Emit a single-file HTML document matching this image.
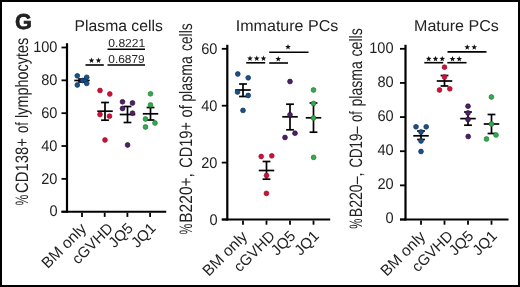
<!DOCTYPE html>
<html><head><meta charset="utf-8"><style>
html,body{margin:0;padding:0;background:#fff;}
svg{will-change:transform} svg text{text-rendering:geometricPrecision}
svg{display:block;font-family:"Liberation Sans", sans-serif;fill:#222;}
</style></head><body>
<svg width="520" height="287" viewBox="0 0 520 287">
<rect x="1" y="1" width="518" height="285" fill="none" stroke="#000" stroke-width="2"/>
<text x="14.9" y="29.1" font-size="21.6" textLength="16.9" lengthAdjust="spacingAndGlyphs" font-weight="bold" stroke="#111" stroke-width="0.6">G</text>
<text x="74.6" y="30.6" font-size="15.6" textLength="88.2" lengthAdjust="spacingAndGlyphs">Plasma cells</text>
<text x="235.8" y="31.2" font-size="15.8" textLength="102.5" lengthAdjust="spacingAndGlyphs">Immature PCs</text>
<text x="414" y="31.2" font-size="15.8" textLength="84.8" lengthAdjust="spacingAndGlyphs">Mature PCs</text>
<line x1="67" y1="43.2" x2="67" y2="212.7" stroke="#000" stroke-width="2.2"/>
<line x1="61.5" y1="211.7" x2="166.2" y2="211.7" stroke="#000" stroke-width="2.0"/>
<line x1="61.5" y1="211.7" x2="67" y2="211.7" stroke="#000" stroke-width="1.8"/>
<text x="57.5" y="216.39999999999998" font-size="15.4" text-anchor="end" textLength="8.11" lengthAdjust="spacingAndGlyphs">0</text>
<line x1="61.5" y1="178.85999999999999" x2="67" y2="178.85999999999999" stroke="#000" stroke-width="1.8"/>
<text x="57.5" y="183.55999999999997" font-size="15.4" text-anchor="end" textLength="16.22" lengthAdjust="spacingAndGlyphs">20</text>
<line x1="61.5" y1="146.01999999999998" x2="67" y2="146.01999999999998" stroke="#000" stroke-width="1.8"/>
<text x="57.5" y="150.71999999999997" font-size="15.4" text-anchor="end" textLength="16.22" lengthAdjust="spacingAndGlyphs">40</text>
<line x1="61.5" y1="113.17999999999999" x2="67" y2="113.17999999999999" stroke="#000" stroke-width="1.8"/>
<text x="57.5" y="117.88" font-size="15.4" text-anchor="end" textLength="16.22" lengthAdjust="spacingAndGlyphs">60</text>
<line x1="61.5" y1="80.34" x2="67" y2="80.34" stroke="#000" stroke-width="1.8"/>
<text x="57.5" y="85.04" font-size="15.4" text-anchor="end" textLength="16.22" lengthAdjust="spacingAndGlyphs">80</text>
<line x1="61.5" y1="47.5" x2="67" y2="47.5" stroke="#000" stroke-width="1.8"/>
<text x="57.5" y="52.2" font-size="15.4" text-anchor="end" textLength="24.33" lengthAdjust="spacingAndGlyphs">100</text>
<line x1="82" y1="212.7" x2="82" y2="216.89999999999998" stroke="#000" stroke-width="1.8"/>
<line x1="104.7" y1="212.7" x2="104.7" y2="216.89999999999998" stroke="#000" stroke-width="1.8"/>
<line x1="127.4" y1="212.7" x2="127.4" y2="216.89999999999998" stroke="#000" stroke-width="1.8"/>
<line x1="150.1" y1="212.7" x2="150.1" y2="216.89999999999998" stroke="#000" stroke-width="1.8"/>
<line x1="227.3" y1="44.8" x2="227.3" y2="220.5" stroke="#000" stroke-width="2.2"/>
<line x1="221.8" y1="219.5" x2="330.2" y2="219.5" stroke="#000" stroke-width="2.0"/>
<line x1="221.8" y1="219.5" x2="227.3" y2="219.5" stroke="#000" stroke-width="1.8"/>
<text x="217.5" y="224.6" font-size="15.4" text-anchor="end" textLength="8.11" lengthAdjust="spacingAndGlyphs">0</text>
<line x1="221.8" y1="162.6" x2="227.3" y2="162.6" stroke="#000" stroke-width="1.8"/>
<text x="217.5" y="167.7" font-size="15.4" text-anchor="end" textLength="16.22" lengthAdjust="spacingAndGlyphs">20</text>
<line x1="221.8" y1="105.69999999999999" x2="227.3" y2="105.69999999999999" stroke="#000" stroke-width="1.8"/>
<text x="217.5" y="110.79999999999998" font-size="15.4" text-anchor="end" textLength="16.22" lengthAdjust="spacingAndGlyphs">40</text>
<line x1="221.8" y1="48.79999999999998" x2="227.3" y2="48.79999999999998" stroke="#000" stroke-width="1.8"/>
<text x="217.5" y="53.899999999999984" font-size="15.4" text-anchor="end" textLength="16.22" lengthAdjust="spacingAndGlyphs">60</text>
<line x1="243" y1="220.5" x2="243" y2="224.7" stroke="#000" stroke-width="1.8"/>
<line x1="266.5" y1="220.5" x2="266.5" y2="224.7" stroke="#000" stroke-width="1.8"/>
<line x1="290" y1="220.5" x2="290" y2="224.7" stroke="#000" stroke-width="1.8"/>
<line x1="313.5" y1="220.5" x2="313.5" y2="224.7" stroke="#000" stroke-width="1.8"/>
<line x1="405.5" y1="44.8" x2="405.5" y2="220.5" stroke="#000" stroke-width="2.2"/>
<line x1="400.0" y1="219.5" x2="508.5" y2="219.5" stroke="#000" stroke-width="2.0"/>
<line x1="400.0" y1="219.5" x2="405.5" y2="219.5" stroke="#000" stroke-width="1.8"/>
<text x="393.6" y="223.4" font-size="15.4" text-anchor="end" textLength="8.11" lengthAdjust="spacingAndGlyphs">0</text>
<line x1="400.0" y1="185.36" x2="405.5" y2="185.36" stroke="#000" stroke-width="1.8"/>
<text x="393.6" y="189.26000000000002" font-size="15.4" text-anchor="end" textLength="16.22" lengthAdjust="spacingAndGlyphs">20</text>
<line x1="400.0" y1="151.22" x2="405.5" y2="151.22" stroke="#000" stroke-width="1.8"/>
<text x="393.6" y="155.12" font-size="15.4" text-anchor="end" textLength="16.22" lengthAdjust="spacingAndGlyphs">40</text>
<line x1="400.0" y1="117.08" x2="405.5" y2="117.08" stroke="#000" stroke-width="1.8"/>
<text x="393.6" y="120.98" font-size="15.4" text-anchor="end" textLength="16.22" lengthAdjust="spacingAndGlyphs">60</text>
<line x1="400.0" y1="82.94" x2="405.5" y2="82.94" stroke="#000" stroke-width="1.8"/>
<text x="393.6" y="86.84" font-size="15.4" text-anchor="end" textLength="16.22" lengthAdjust="spacingAndGlyphs">80</text>
<line x1="400.0" y1="48.79999999999998" x2="405.5" y2="48.79999999999998" stroke="#000" stroke-width="1.8"/>
<text x="393.6" y="52.69999999999998" font-size="15.4" text-anchor="end" textLength="24.33" lengthAdjust="spacingAndGlyphs">100</text>
<line x1="421" y1="220.5" x2="421" y2="224.7" stroke="#000" stroke-width="1.8"/>
<line x1="444.5" y1="220.5" x2="444.5" y2="224.7" stroke="#000" stroke-width="1.8"/>
<line x1="468" y1="220.5" x2="468" y2="224.7" stroke="#000" stroke-width="1.8"/>
<line x1="491.5" y1="220.5" x2="491.5" y2="224.7" stroke="#000" stroke-width="1.8"/>
<line x1="82" y1="79" x2="82" y2="82" stroke="#000" stroke-width="1.7"/>
<line x1="78.1" y1="79" x2="85.9" y2="79" stroke="#000" stroke-width="1.7"/>
<line x1="78.1" y1="82" x2="85.9" y2="82" stroke="#000" stroke-width="1.7"/>
<line x1="74.25" y1="80.5" x2="89.75" y2="80.5" stroke="#000" stroke-width="1.7"/>
<line x1="105" y1="102.5" x2="105" y2="120.2" stroke="#000" stroke-width="1.7"/>
<line x1="101.1" y1="102.5" x2="108.9" y2="102.5" stroke="#000" stroke-width="1.7"/>
<line x1="101.1" y1="120.2" x2="108.9" y2="120.2" stroke="#000" stroke-width="1.7"/>
<line x1="97.25" y1="111.2" x2="112.75" y2="111.2" stroke="#000" stroke-width="1.7"/>
<line x1="127.5" y1="106.5" x2="127.5" y2="122.5" stroke="#000" stroke-width="1.7"/>
<line x1="123.6" y1="106.5" x2="131.4" y2="106.5" stroke="#000" stroke-width="1.7"/>
<line x1="123.6" y1="122.5" x2="131.4" y2="122.5" stroke="#000" stroke-width="1.7"/>
<line x1="119.75" y1="114.5" x2="135.25" y2="114.5" stroke="#000" stroke-width="1.7"/>
<line x1="150.5" y1="107.5" x2="150.5" y2="120" stroke="#000" stroke-width="1.7"/>
<line x1="146.6" y1="107.5" x2="154.4" y2="107.5" stroke="#000" stroke-width="1.7"/>
<line x1="146.6" y1="120" x2="154.4" y2="120" stroke="#000" stroke-width="1.7"/>
<line x1="142.75" y1="113.8" x2="158.25" y2="113.8" stroke="#000" stroke-width="1.7"/>
<line x1="243" y1="84" x2="243" y2="96.5" stroke="#000" stroke-width="1.7"/>
<line x1="239.1" y1="84" x2="246.9" y2="84" stroke="#000" stroke-width="1.7"/>
<line x1="239.1" y1="96.5" x2="246.9" y2="96.5" stroke="#000" stroke-width="1.7"/>
<line x1="235.25" y1="90" x2="250.75" y2="90" stroke="#000" stroke-width="1.7"/>
<line x1="266.5" y1="161.5" x2="266.5" y2="179.2" stroke="#000" stroke-width="1.7"/>
<line x1="262.6" y1="161.5" x2="270.4" y2="161.5" stroke="#000" stroke-width="1.7"/>
<line x1="262.6" y1="179.2" x2="270.4" y2="179.2" stroke="#000" stroke-width="1.7"/>
<line x1="258.75" y1="170.5" x2="274.25" y2="170.5" stroke="#000" stroke-width="1.7"/>
<line x1="290" y1="104.2" x2="290" y2="129.8" stroke="#000" stroke-width="1.7"/>
<line x1="286.1" y1="104.2" x2="293.9" y2="104.2" stroke="#000" stroke-width="1.7"/>
<line x1="286.1" y1="129.8" x2="293.9" y2="129.8" stroke="#000" stroke-width="1.7"/>
<line x1="282.25" y1="116.8" x2="297.75" y2="116.8" stroke="#000" stroke-width="1.7"/>
<line x1="313.5" y1="103" x2="313.5" y2="132.2" stroke="#000" stroke-width="1.7"/>
<line x1="309.6" y1="103" x2="317.4" y2="103" stroke="#000" stroke-width="1.7"/>
<line x1="309.6" y1="132.2" x2="317.4" y2="132.2" stroke="#000" stroke-width="1.7"/>
<line x1="305.75" y1="117.8" x2="321.25" y2="117.8" stroke="#000" stroke-width="1.7"/>
<line x1="421" y1="131" x2="421" y2="139.5" stroke="#000" stroke-width="1.7"/>
<line x1="417.1" y1="131" x2="424.9" y2="131" stroke="#000" stroke-width="1.7"/>
<line x1="417.1" y1="139.5" x2="424.9" y2="139.5" stroke="#000" stroke-width="1.7"/>
<line x1="413.25" y1="135.8" x2="428.75" y2="135.8" stroke="#000" stroke-width="1.7"/>
<line x1="444.5" y1="75.5" x2="444.5" y2="86" stroke="#000" stroke-width="1.7"/>
<line x1="440.6" y1="75.5" x2="448.4" y2="75.5" stroke="#000" stroke-width="1.7"/>
<line x1="440.6" y1="86" x2="448.4" y2="86" stroke="#000" stroke-width="1.7"/>
<line x1="436.75" y1="81" x2="452.25" y2="81" stroke="#000" stroke-width="1.7"/>
<line x1="468" y1="112" x2="468" y2="125.2" stroke="#000" stroke-width="1.7"/>
<line x1="464.1" y1="112" x2="471.9" y2="112" stroke="#000" stroke-width="1.7"/>
<line x1="464.1" y1="125.2" x2="471.9" y2="125.2" stroke="#000" stroke-width="1.7"/>
<line x1="460.25" y1="118.6" x2="475.75" y2="118.6" stroke="#000" stroke-width="1.7"/>
<line x1="491.5" y1="114.5" x2="491.5" y2="133.5" stroke="#000" stroke-width="1.7"/>
<line x1="487.6" y1="114.5" x2="495.4" y2="114.5" stroke="#000" stroke-width="1.7"/>
<line x1="487.6" y1="133.5" x2="495.4" y2="133.5" stroke="#000" stroke-width="1.7"/>
<line x1="483.75" y1="124" x2="499.25" y2="124" stroke="#000" stroke-width="1.7"/>
<circle cx="77.3" cy="75.8" r="2.4" fill="#1a5287" stroke="#0b2d50" stroke-width="0.7"/>
<circle cx="77.3" cy="85" r="2.4" fill="#1a5287" stroke="#0b2d50" stroke-width="0.7"/>
<circle cx="82.6" cy="80.5" r="2.4" fill="#1a5287" stroke="#0b2d50" stroke-width="0.7"/>
<circle cx="85.3" cy="80.5" r="2.4" fill="#1a5287" stroke="#0b2d50" stroke-width="0.7"/>
<circle cx="86.7" cy="77.3" r="2.4" fill="#1a5287" stroke="#0b2d50" stroke-width="0.7"/>
<circle cx="86.7" cy="83.4" r="2.4" fill="#1a5287" stroke="#0b2d50" stroke-width="0.7"/>
<circle cx="100" cy="90.5" r="2.4" fill="#cc1238" stroke="#9c0b28" stroke-width="0.7"/>
<circle cx="109.8" cy="94" r="2.4" fill="#cc1238" stroke="#9c0b28" stroke-width="0.7"/>
<circle cx="100" cy="114.5" r="2.4" fill="#cc1238" stroke="#9c0b28" stroke-width="0.7"/>
<circle cx="109.5" cy="116.2" r="2.4" fill="#cc1238" stroke="#9c0b28" stroke-width="0.7"/>
<circle cx="105" cy="140" r="2.4" fill="#cc1238" stroke="#9c0b28" stroke-width="0.7"/>
<circle cx="122.5" cy="101.8" r="2.4" fill="#4d2163" stroke="#2c0c3e" stroke-width="0.7"/>
<circle cx="132.5" cy="103" r="2.4" fill="#4d2163" stroke="#2c0c3e" stroke-width="0.7"/>
<circle cx="122.5" cy="108.5" r="2.4" fill="#4d2163" stroke="#2c0c3e" stroke-width="0.7"/>
<circle cx="132.5" cy="113.2" r="2.4" fill="#4d2163" stroke="#2c0c3e" stroke-width="0.7"/>
<circle cx="127.6" cy="145" r="2.4" fill="#4d2163" stroke="#2c0c3e" stroke-width="0.7"/>
<circle cx="150.5" cy="93.8" r="2.4" fill="#33aa50" stroke="#1d7a36" stroke-width="0.7"/>
<circle cx="150.5" cy="105" r="2.4" fill="#33aa50" stroke="#1d7a36" stroke-width="0.7"/>
<circle cx="145.5" cy="119" r="2.4" fill="#33aa50" stroke="#1d7a36" stroke-width="0.7"/>
<circle cx="155" cy="123" r="2.4" fill="#33aa50" stroke="#1d7a36" stroke-width="0.7"/>
<circle cx="145.5" cy="127" r="2.4" fill="#33aa50" stroke="#1d7a36" stroke-width="0.7"/>
<circle cx="237.8" cy="74" r="2.4" fill="#1a5287" stroke="#0b2d50" stroke-width="0.7"/>
<circle cx="248.2" cy="77.8" r="2.4" fill="#1a5287" stroke="#0b2d50" stroke-width="0.7"/>
<circle cx="237.5" cy="92" r="2.4" fill="#1a5287" stroke="#0b2d50" stroke-width="0.7"/>
<circle cx="248.2" cy="95.5" r="2.4" fill="#1a5287" stroke="#0b2d50" stroke-width="0.7"/>
<circle cx="243" cy="110.4" r="2.4" fill="#1a5287" stroke="#0b2d50" stroke-width="0.7"/>
<circle cx="261.2" cy="156.5" r="2.4" fill="#cc1238" stroke="#9c0b28" stroke-width="0.7"/>
<circle cx="271.8" cy="155.8" r="2.4" fill="#cc1238" stroke="#9c0b28" stroke-width="0.7"/>
<circle cx="266.5" cy="175.5" r="2.4" fill="#cc1238" stroke="#9c0b28" stroke-width="0.7"/>
<circle cx="266.4" cy="193.4" r="2.4" fill="#cc1238" stroke="#9c0b28" stroke-width="0.7"/>
<circle cx="290" cy="81.5" r="2.4" fill="#4d2163" stroke="#2c0c3e" stroke-width="0.7"/>
<circle cx="290" cy="114.8" r="2.4" fill="#4d2163" stroke="#2c0c3e" stroke-width="0.7"/>
<circle cx="295" cy="133.2" r="2.4" fill="#4d2163" stroke="#2c0c3e" stroke-width="0.7"/>
<circle cx="285" cy="137.5" r="2.4" fill="#4d2163" stroke="#2c0c3e" stroke-width="0.7"/>
<circle cx="313.5" cy="90" r="2.4" fill="#33aa50" stroke="#1d7a36" stroke-width="0.7"/>
<circle cx="313.5" cy="103.5" r="2.4" fill="#33aa50" stroke="#1d7a36" stroke-width="0.7"/>
<circle cx="313.5" cy="118" r="2.4" fill="#33aa50" stroke="#1d7a36" stroke-width="0.7"/>
<circle cx="313.6" cy="157.4" r="2.4" fill="#33aa50" stroke="#1d7a36" stroke-width="0.7"/>
<circle cx="416" cy="126.8" r="2.4" fill="#1a5287" stroke="#0b2d50" stroke-width="0.7"/>
<circle cx="426.2" cy="126.8" r="2.4" fill="#1a5287" stroke="#0b2d50" stroke-width="0.7"/>
<circle cx="421" cy="132" r="2.4" fill="#1a5287" stroke="#0b2d50" stroke-width="0.7"/>
<circle cx="421" cy="141" r="2.4" fill="#1a5287" stroke="#0b2d50" stroke-width="0.7"/>
<circle cx="421" cy="151.5" r="2.4" fill="#1a5287" stroke="#0b2d50" stroke-width="0.7"/>
<circle cx="444.5" cy="67.2" r="2.4" fill="#cc1238" stroke="#9c0b28" stroke-width="0.7"/>
<circle cx="444.5" cy="77" r="2.4" fill="#cc1238" stroke="#9c0b28" stroke-width="0.7"/>
<circle cx="439.5" cy="90" r="2.4" fill="#cc1238" stroke="#9c0b28" stroke-width="0.7"/>
<circle cx="449.8" cy="88.8" r="2.4" fill="#cc1238" stroke="#9c0b28" stroke-width="0.7"/>
<circle cx="468" cy="106.2" r="2.4" fill="#4d2163" stroke="#2c0c3e" stroke-width="0.7"/>
<circle cx="468" cy="113" r="2.4" fill="#4d2163" stroke="#2c0c3e" stroke-width="0.7"/>
<circle cx="468" cy="119.5" r="2.4" fill="#4d2163" stroke="#2c0c3e" stroke-width="0.7"/>
<circle cx="468.2" cy="136.5" r="2.4" fill="#4d2163" stroke="#2c0c3e" stroke-width="0.7"/>
<circle cx="491.4" cy="97" r="2.4" fill="#33aa50" stroke="#1d7a36" stroke-width="0.7"/>
<circle cx="491.5" cy="124" r="2.4" fill="#33aa50" stroke="#1d7a36" stroke-width="0.7"/>
<circle cx="486.5" cy="139" r="2.4" fill="#33aa50" stroke="#1d7a36" stroke-width="0.7"/>
<circle cx="496" cy="135" r="2.4" fill="#33aa50" stroke="#1d7a36" stroke-width="0.7"/>
<polygon points="91.50,57.57 92.25,59.49 94.31,59.61 92.71,60.91 93.23,62.91 91.50,61.79 89.77,62.91 90.29,60.91 88.69,59.61 90.75,59.49" fill="#111"/>
<polygon points="98.50,57.57 99.25,59.49 101.31,59.61 99.71,60.91 100.23,62.91 98.50,61.79 96.77,62.91 97.29,60.91 95.69,59.61 97.75,59.49" fill="#111"/>
<line x1="85.5" y1="65" x2="103.8" y2="65" stroke="#000" stroke-width="1.6"/>
<text x="108.3" y="62.8" font-size="11.6" textLength="36.4" lengthAdjust="spacingAndGlyphs">0.6879</text>
<line x1="107.5" y1="65" x2="145" y2="65" stroke="#000" stroke-width="1.6"/>
<text x="108.3" y="46.8" font-size="11.6" textLength="37" lengthAdjust="spacingAndGlyphs">0.8221</text>
<line x1="107.5" y1="49.2" x2="145" y2="49.2" stroke="#000" stroke-width="1.6"/>
<polygon points="250.00,55.57 250.75,57.49 252.81,57.61 251.21,58.91 251.73,60.91 250.00,59.79 248.27,60.91 248.79,58.91 247.19,57.61 249.25,57.49" fill="#111"/>
<polygon points="256.75,55.57 257.50,57.49 259.56,57.61 257.96,58.91 258.48,60.91 256.75,59.79 255.02,60.91 255.54,58.91 253.94,57.61 256.00,57.49" fill="#111"/>
<polygon points="263.50,55.57 264.25,57.49 266.31,57.61 264.71,58.91 265.23,60.91 263.50,59.79 261.77,60.91 262.29,58.91 260.69,57.61 262.75,57.49" fill="#111"/>
<line x1="246.2" y1="62.8" x2="265.2" y2="62.8" stroke="#000" stroke-width="1.6"/>
<polygon points="278.25,56.07 279.00,57.99 281.06,58.11 279.46,59.41 279.98,61.41 278.25,60.29 276.52,61.41 277.04,59.41 275.44,58.11 277.50,57.99" fill="#111"/>
<line x1="269.2" y1="63" x2="288" y2="63" stroke="#000" stroke-width="1.6"/>
<polygon points="288.00,44.07 288.75,45.99 290.81,46.11 289.21,47.41 289.73,49.41 288.00,48.29 286.27,49.41 286.79,47.41 285.19,46.11 287.25,45.99" fill="#111"/>
<line x1="269.2" y1="52.3" x2="308.5" y2="52.3" stroke="#000" stroke-width="1.6"/>
<polygon points="428.75,55.92 429.50,57.84 431.56,57.96 429.96,59.26 430.48,61.26 428.75,60.14 427.02,61.26 427.54,59.26 425.94,57.96 428.00,57.84" fill="#111"/>
<polygon points="435.50,55.92 436.25,57.84 438.31,57.96 436.71,59.26 437.23,61.26 435.50,60.14 433.77,61.26 434.29,59.26 432.69,57.96 434.75,57.84" fill="#111"/>
<polygon points="442.25,55.92 443.00,57.84 445.06,57.96 443.46,59.26 443.98,61.26 442.25,60.14 440.52,61.26 441.04,59.26 439.44,57.96 441.50,57.84" fill="#111"/>
<line x1="424.3" y1="62.7" x2="443.2" y2="62.7" stroke="#000" stroke-width="1.6"/>
<polygon points="452.50,56.07 453.25,57.99 455.31,58.11 453.71,59.41 454.23,61.41 452.50,60.29 450.77,61.41 451.29,59.41 449.69,58.11 451.75,57.99" fill="#111"/>
<polygon points="459.25,56.07 460.00,57.99 462.06,58.11 460.46,59.41 460.98,61.41 459.25,60.29 457.52,61.41 458.04,59.41 456.44,58.11 458.50,57.99" fill="#111"/>
<line x1="447.3" y1="62.7" x2="466.5" y2="62.7" stroke="#000" stroke-width="1.6"/>
<polygon points="467.25,44.32 468.00,46.24 470.06,46.36 468.46,47.66 468.98,49.66 467.25,48.54 465.52,49.66 466.04,47.66 464.44,46.36 466.50,46.24" fill="#111"/>
<polygon points="474.25,44.32 475.00,46.24 477.06,46.36 475.46,47.66 475.98,49.66 474.25,48.54 472.52,49.66 473.04,47.66 471.44,46.36 473.50,46.24" fill="#111"/>
<line x1="447.5" y1="51.9" x2="486.5" y2="51.9" stroke="#000" stroke-width="1.6"/>
<text transform="translate(27.8,205.5) rotate(-90)" font-size="18" textLength="10.81" lengthAdjust="spacingAndGlyphs">%</text>
<text transform="translate(27.8,193.0) rotate(-90)" font-size="18" textLength="54.81" lengthAdjust="spacingAndGlyphs">CD138+</text>
<text transform="translate(27.8,133.0) rotate(-90)" font-size="18" textLength="10.76" lengthAdjust="spacingAndGlyphs">of</text>
<text transform="translate(27.8,118.0) rotate(-90)" font-size="18" textLength="80.26" lengthAdjust="spacingAndGlyphs">lymphocytes</text>
<text transform="translate(191.8,234.5) rotate(-90)" font-size="18" textLength="10.81" lengthAdjust="spacingAndGlyphs">%</text>
<text transform="translate(191.8,222.75) rotate(-90)" font-size="18" textLength="49.69" lengthAdjust="spacingAndGlyphs">B220+,</text>
<text transform="translate(191.8,167.75) rotate(-90)" font-size="18" textLength="45.65" lengthAdjust="spacingAndGlyphs">CD19+</text>
<text transform="translate(191.8,117.5) rotate(-90)" font-size="18" textLength="12.33" lengthAdjust="spacingAndGlyphs">of</text>
<text transform="translate(191.8,101.8) rotate(-90)" font-size="18" textLength="45.58" lengthAdjust="spacingAndGlyphs">plasma</text>
<text transform="translate(191.8,51.0) rotate(-90)" font-size="18" textLength="27.65" lengthAdjust="spacingAndGlyphs">cells</text>
<text transform="translate(361.8,228.75) rotate(-90)" font-size="18" textLength="10.09" lengthAdjust="spacingAndGlyphs">%</text>
<text transform="translate(361.8,217.25) rotate(-90)" font-size="18" textLength="44.69" lengthAdjust="spacingAndGlyphs">B220&#8211;,</text>
<text transform="translate(361.8,167.5) rotate(-90)" font-size="18" textLength="41.09" lengthAdjust="spacingAndGlyphs">CD19&#8211;</text>
<text transform="translate(361.8,122.0) rotate(-90)" font-size="18" textLength="10.76" lengthAdjust="spacingAndGlyphs">of</text>
<text transform="translate(361.8,106.5) rotate(-90)" font-size="18" textLength="45.46" lengthAdjust="spacingAndGlyphs">plasma</text>
<text transform="translate(361.8,56.5) rotate(-90)" font-size="18" textLength="28.26" lengthAdjust="spacingAndGlyphs">cells</text>
<text transform="translate(87.3,229.6) rotate(-45)" font-size="15.5" text-anchor="end">BM only</text>
<text transform="translate(114.0,229.1) rotate(-45)" font-size="15" text-anchor="end">cGVHD</text>
<text transform="translate(133.9,229.1) rotate(-45)" font-size="15" text-anchor="end">JQ5</text>
<text transform="translate(156.6,229.1) rotate(-45)" font-size="15" text-anchor="end">JQ1</text>
<text transform="translate(248.3,237.4) rotate(-45)" font-size="15.5" text-anchor="end">BM only</text>
<text transform="translate(275.8,236.9) rotate(-45)" font-size="15" text-anchor="end">cGVHD</text>
<text transform="translate(296.5,236.9) rotate(-45)" font-size="15" text-anchor="end">JQ5</text>
<text transform="translate(320.0,236.9) rotate(-45)" font-size="15" text-anchor="end">JQ1</text>
<text transform="translate(426.3,237.4) rotate(-45)" font-size="15.5" text-anchor="end">BM only</text>
<text transform="translate(453.8,236.9) rotate(-45)" font-size="15" text-anchor="end">cGVHD</text>
<text transform="translate(474.5,236.9) rotate(-45)" font-size="15" text-anchor="end">JQ5</text>
<text transform="translate(498.0,236.9) rotate(-45)" font-size="15" text-anchor="end">JQ1</text>
</svg>
</body></html>
